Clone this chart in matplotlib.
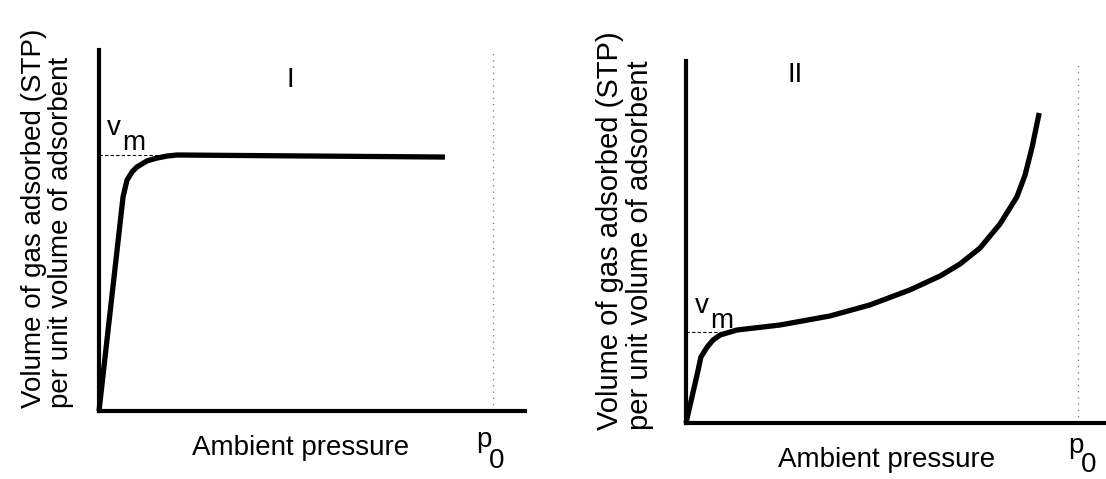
"""
Two adsorption isotherm sketches (type I and type II) with v_m and p_0 marks.
"""

import matplotlib
matplotlib.use("Agg")
import matplotlib.pyplot as plt

W, H = 1106, 479

# relative pressure p/p0 and adsorbed volume v/v_m
type1_p = [0.0, 0.061, 0.071, 0.084, 0.096, 0.122, 0.147, 0.173, 0.198, 0.878]
type1_v = [0.0, 0.836, 0.902, 0.934, 0.953, 0.977, 0.988, 0.996, 1.000, 0.992]

type2_p = [0.0, 0.031, 0.038, 0.054, 0.069, 0.087, 0.130, 0.240, 0.367, 0.469,
           0.571, 0.648, 0.699, 0.750, 0.801, 0.844, 0.865, 0.883, 0.901]
type2_v = [0.0, 0.582, 0.725, 0.835, 0.912, 0.967, 1.022, 1.077, 1.176, 1.297,
           1.462, 1.615, 1.747, 1.923, 2.187, 2.484, 2.725, 3.033, 3.407]

ylabel = "Volume of gas adsorbed (STP)\nper unit volume of adsorbent"
xlabel = "Ambient pressure"
panel_names = ["I", "II"]

FONT = ["Liberation Sans", "DejaVu Sans"]
plt.rcParams["font.family"] = FONT


def px(x, y):
    """pixel position -> figure fraction"""
    return x / W, 1 - y / H


def make_axes(fig, x0, y0, x1, y1, xmax, ymax):
    ax = fig.add_axes([x0 / W, 1 - y0 / H, (x1 - x0) / W, (y0 - y1) / H])
    ax.set_xlim(0, xmax)
    ax.set_ylim(0, ymax)
    for s in ("top", "right"):
        ax.spines[s].set_visible(False)
    for s in ("left", "bottom"):
        ax.spines[s].set_linewidth(3)
    ax.set_xticks([])
    ax.set_yticks([])
    ax.patch.set_alpha(0)
    return ax


def draw_panel(ax, p, v, vm_end, ymax):
    ax.plot(p, v, color="black", lw=3.8, solid_joinstyle="round",
            solid_capstyle="butt", clip_on=False)
    ax.plot([0, vm_end], [1, 1], color="black", lw=0.8, ls=(0, (3, 2)))
    ax.plot([1, 1], [0, ymax], color="#777777", lw=0.9, ls=(0, (1, 4)))


fig = plt.figure(figsize=(W / 100, H / 100), dpi=100)

# panel I: origin (99,411), p0 at x=493, v_m at y=155
ax1 = make_axes(fig, 99, 411, 525, 50, (525 - 99) / 394, (411 - 50) / 256)
draw_panel(ax1, type1_p, type1_v, 0.19, (411 - 50) / 256)

# panel II: origin (686,423), p0 at x=1078, v_m at y=332
ax2 = make_axes(fig, 686, 423, 1106, 61, (1106 - 686) / 392, (423 - 61) / 91)
draw_panel(ax2, type2_p, type2_v, 0.09, (423 - 61) / 91)

fs = 20
# y labels
fig.text(*px(48, 408), ylabel, rotation=90, ha="center", va="bottom",
         multialignment="left", linespacing=1.05, fontsize=fs)
fig.text(*px(625, 430), ylabel, rotation=90, ha="center", va="bottom",
         multialignment="left", linespacing=1.05, fontsize=21)

# x labels
fig.text(*px(301, 455), xlabel, ha="center", va="baseline", fontsize=fs)
fig.text(*px(887, 467), xlabel, ha="center", va="baseline", fontsize=fs)

# p0 marks
fig.text(*px(476, 447), "p", ha="left", va="baseline", fontsize=fs)
fig.text(*px(489, 468), "0", ha="left", va="baseline", fontsize=fs)
fig.text(*px(1068, 453), "p", ha="left", va="baseline", fontsize=fs)
fig.text(*px(1081, 472), "0", ha="left", va="baseline", fontsize=fs)

# v_m marks
fig.text(*px(107, 135), "v", ha="left", va="baseline", fontsize=fs)
fig.text(*px(122, 150), "m", ha="left", va="baseline", fontsize=fs)
fig.text(*px(695, 313), "v", ha="left", va="baseline", fontsize=fs)
fig.text(*px(710, 328), "m", ha="left", va="baseline", fontsize=fs)

# panel names
fig.text(*px(290, 80), panel_names[0], ha="center", va="center", fontsize=fs)
fig.text(*px(795, 75), panel_names[1], ha="center", va="center", fontsize=fs)

fig.savefig("out.png", dpi=100)
